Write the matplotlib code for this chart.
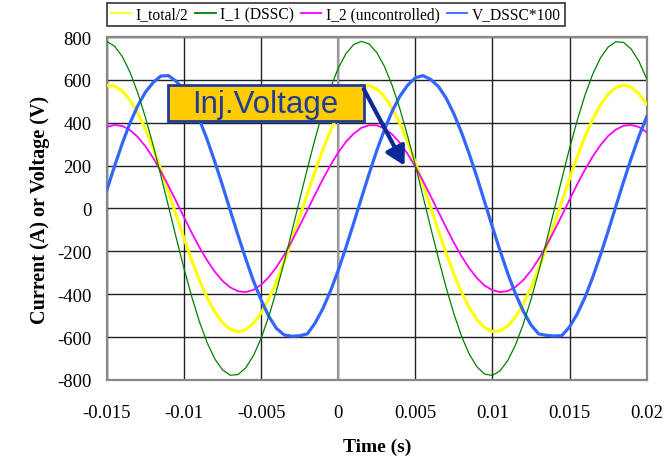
import matplotlib
matplotlib.use("Agg")
import matplotlib.pyplot as plt
from matplotlib.patches import Rectangle

time_s = [round(-0.015 + 0.0005 * k, 4) for k in range(71)]

i_total_half = [574, 571, 548, 506, 446, 370, 281, 181, 76, -32,
                -139, -241, -335, -416, -483, -533, -564, -575, -566, -536,
                -488, -422, -341, -248, -147, -40, 68, 174, 273, 363,
                440, 502, 546, 570, 574, 558, 522, 468, 397, 311,
                215, 112, 4, -104, -208, -305, -391, -463, -519, -556,
                -574, -571, -548, -506, -446, -370, -281, -181, -76, 32,
                139, 241, 335, 416, 483, 533, 564, 575, 566, 536, 488]

i_1_dssc = [779, 757, 709, 636, 540, 425, 295, 154, 8, -138,
            -280, -411, -528, -626, -702, -753, -778, -775, -744, -687,
            -606, -503, -383, -249, -106, 41, 186, 325, 452, 563,
            654, 722, 765, 780, 768, 728, 663, 574, 465, 339,
            202, 57, -90, -233, -369, -491, -596, -680, -739, -773,
            -779, -757, -709, -636, -540, -425, -295, -154, -8, 138,
            280, 411, 528, 626, 702, 753, 778, 775, 744, 687, 606]

i_2_unctrl = [381, 390, 385, 366, 334, 290, 236, 173, 105, 33,
              -41, -113, -181, -242, -295, -338, -368, -386, -390, -380,
              -356, -320, -273, -216, -151, -81, -8, 65, 136, 202,
              261, 311, 349, 376, 389, 388, 373, 346, 306, 255,
              195, 128, 57, -16, -89, -159, -223, -279, -325, -360,
              -381, -390, -385, -366, -334, -290, -236, -173, -105, -33,
              41, 113, 181, 242, 295, 338, 368, 386, 390, 380, 356]

v_dssc_x100 = [86, 198, 304, 399, 479, 543, 588, 618, 620, 593,
               553, 492, 415, 322, 218, 107, -9, -124, -234, -337,
               -427, -503, -560, -590, -596, -594, -585, -535, -468, -385,
               -289, -182, -69, 47, 161, 270, 368, 454, 524, 575,
               610, 620, 602, 569, 515, 442, 354, 254, 145, 30,
               -86, -198, -304, -399, -479, -543, -585, -592, -595, -593,
               -553, -492, -415, -322, -218, -107, 9, 124, 234, 337, 427]

series_labels = ["I_total/2", "I_1 (DSSC)", "I_2 (uncontrolled)", "V_DSSC*100"]
x_ticks = [-0.015, -0.01, -0.005, 0, 0.005, 0.01, 0.015, 0.02]
x_tick_labels = ["-0.015", "-0.01", "-0.005", "0", "0.005", "0.01", "0.015", "0.02"]
y_ticks = [-800, -600, -400, -200, 0, 200, 400, 600, 800]

plt.rcParams['font.family'] = ['Liberation Serif', 'DejaVu Serif']
plt.rcParams['axes.unicode_minus'] = False

fig = plt.figure(figsize=(6.68, 4.64), dpi=100)
ax = fig.add_axes([0.160, 0.179, 0.808, 0.739])

ax.plot(time_s, i_total_half, color='#FFFF00', lw=2.2, label=series_labels[0], zorder=3)
ax.plot(time_s, i_1_dssc, color='#008000', lw=0.9, label=series_labels[1], zorder=4)
ax.plot(time_s, i_2_unctrl, color='#FF00FF', lw=1.3, label=series_labels[2], zorder=3)
ax.plot(time_s, v_dssc_x100, color='#3366FF', lw=2.3, label=series_labels[3], zorder=3)

ax.set_xlim(-0.015, 0.02)
ax.set_ylim(-800, 800)
ax.set_xticks(x_ticks)
ax.set_xticklabels(x_tick_labels)
ax.set_yticks(y_ticks)
ax.tick_params(axis='both', length=0, labelsize=13.5)
ax.tick_params(axis='x', pad=17)
ax.tick_params(axis='y', pad=11)
ax.grid(True, color='#222222', lw=1.0, zorder=1)
ax.set_axisbelow(True)
ax.axvline(0, color='#999999', lw=1.6, zorder=2)
for s in ax.spines.values():
    s.set_color('#888888')
    s.set_linewidth(1.6)

ax.set_xlabel('Time (s)', fontsize=14, fontweight='bold', labelpad=12)
ax.set_ylabel('Current (A) or Voltage (V)', fontsize=14.5, fontweight='bold', labelpad=5)

leg = fig.legend(loc='upper left', bbox_to_anchor=(0.160, 0.992), ncol=4,
                 frameon=True, fancybox=False, fontsize=11.2, handlelength=1.3,
                 handletextpad=0.3, columnspacing=0.45, borderpad=0.25,
                 borderaxespad=0)
leg.get_frame().set_edgecolor('black')
leg.get_frame().set_linewidth(1.2)
for h in leg.legend_handles:
    h.set_linewidth(1.3)

# Annotation box
ax.add_patch(Rectangle((0.113, 0.755), 0.363, 0.105, transform=ax.transAxes,
                       facecolor='#FFCC00', edgecolor='#1F3C99', lw=2.0, zorder=6))
ax.text(0.294, 0.806, 'Inj.Voltage', transform=ax.transAxes, ha='center', va='center',
        fontsize=22.5, color='#1F3C99', family=['Liberation Sans', 'DejaVu Sans'], zorder=7)
ax.annotate('', xy=(0.0043, 200), xycoords='data', xytext=(0.476, 0.848),
            textcoords='axes fraction',
            arrowprops=dict(arrowstyle='-|>,head_length=0.8,head_width=0.45', color='#0A2A9A',
                            lw=3, shrinkA=0, shrinkB=0, mutation_scale=14), zorder=7)

fig.savefig('out.png', dpi=100)
